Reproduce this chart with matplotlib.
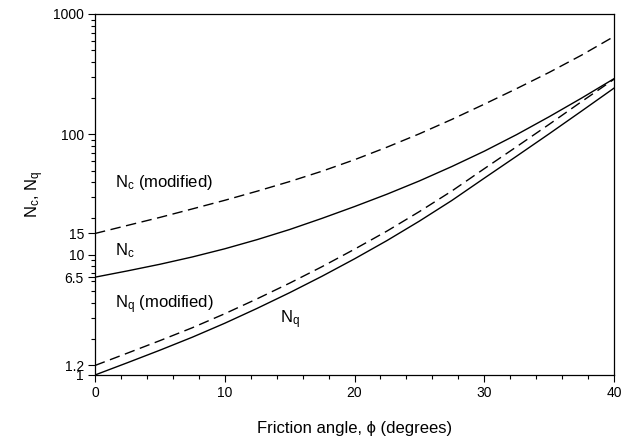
import matplotlib
matplotlib.use("Agg")
import matplotlib.pyplot as plt
from matplotlib.ticker import FixedLocator, LogLocator, NullFormatter, MultipleLocator

plt.rcParams['font.family'] = ['Liberation Sans', 'DejaVu Sans']
plt.rcParams['mathtext.fontset'] = 'custom'
plt.rcParams['mathtext.rm'] = 'Liberation Sans'
plt.rcParams['mathtext.it'] = 'Liberation Sans'

# Friction angle (degrees)
phi = [0, 2.5, 5, 7.5, 10, 12.5, 15, 17.5, 20, 22.5, 25, 27.5, 30, 32.5, 35, 37.5, 40]

# Bearing capacity factors
nc = [6.5, 7.33, 8.32, 9.57, 11.19, 13.34, 16.18, 20.04, 25.1, 31.8, 41.0, 54.0, 72.4, 99.5, 140, 200, 290]
nc_mod = [15.0, 17.5, 20.4, 24.0, 28.3, 33.7, 40.5, 49.4, 61.5, 78.2, 101, 133, 178, 240, 327, 455, 650]
nq = [1.0, 1.265, 1.607, 2.061, 2.692, 3.581, 4.83, 6.62, 9.23, 13.09, 19.0, 28.2, 43.2, 65.9, 101, 156, 242]
nq_mod = [1.2, 1.52, 1.93, 2.47, 3.23, 4.30, 5.8, 7.95, 11.1, 15.7, 22.8, 33.8, 51.8, 79, 121, 187, 287]

ytick_vals = [1, 1.2, 6.5, 10, 15, 100, 1000]
ytick_labels = ['1', '1.2', '6.5', '10', '15', '100', '1000']

fig = plt.figure(figsize=(6.3, 4.43), dpi=100)
ax = fig.add_axes([0.1508, 0.1535, 0.8238, 0.8149])

dash = (7.5, 4)
ax.plot(phi, nc_mod, color='black', lw=1.0, dashes=dash)
ax.plot(phi, nc, color='black', lw=1.0)
ax.plot(phi, nq_mod, color='black', lw=1.0, dashes=dash)
ax.plot(phi, nq, color='black', lw=1.0)

ax.set_yscale('log')
ax.set_xlim(0, 40)
ax.set_ylim(1, 1000)

ax.yaxis.set_major_locator(FixedLocator(ytick_vals))
ax.set_yticklabels(ytick_labels)
ax.yaxis.set_minor_locator(LogLocator(base=10, subs=range(2, 10)))
ax.yaxis.set_minor_formatter(NullFormatter())
ax.xaxis.set_major_locator(MultipleLocator(10))
ax.xaxis.set_minor_locator(MultipleLocator(2))

ax.tick_params(which='major', direction='out', length=5, width=0.8, labelsize=10, pad=3)
ax.tick_params(which='minor', direction='out', length=3, width=0.8)
for s in ax.spines.values():
    s.set_linewidth(0.9)

ax.set_xlabel('Friction angle, \u03d5 (degrees)', fontsize=12, labelpad=15)
ax.set_ylabel('N$_c$, N$_q$', fontsize=12, labelpad=5)

ax.text(1.55, 36.3, 'N$_c$ (modified)', fontsize=12, va='baseline', ha='left')
ax.text(1.55, 9.94, 'N$_c$', fontsize=12, va='baseline', ha='left')
ax.text(1.55, 3.58, 'N$_q$ (modified)', fontsize=12, va='baseline', ha='left')
ax.text(14.26, 2.69, 'N$_q$', fontsize=12, va='baseline', ha='left')

fig.savefig('out.png', dpi=100)
